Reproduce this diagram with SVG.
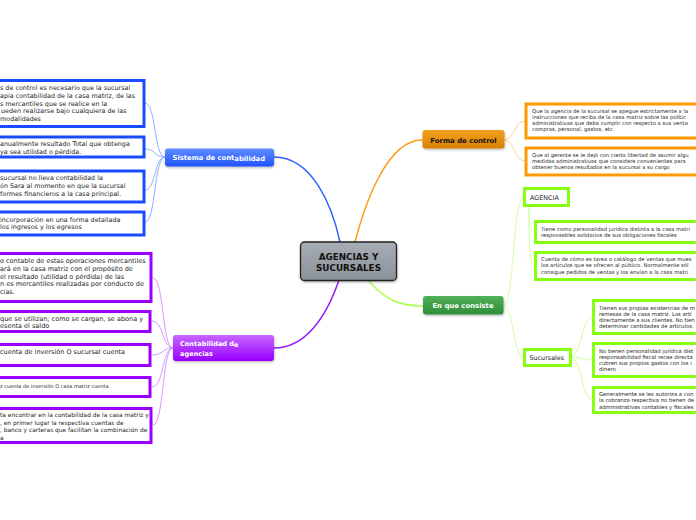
<svg xmlns="http://www.w3.org/2000/svg" width="696" height="520" viewBox="0 0 696 520">
<defs>
<linearGradient id="gCentral" x1="0" y1="0" x2="0" y2="1"><stop offset="0" stop-color="#a7adb4"/><stop offset="1" stop-color="#8b9198"/></linearGradient>
<linearGradient id="gBlue" x1="0" y1="0" x2="0" y2="1"><stop offset="0" stop-color="#5f8dff"/><stop offset="1" stop-color="#1f52ff"/></linearGradient>
<linearGradient id="gPurple" x1="0" y1="0" x2="0" y2="1"><stop offset="0" stop-color="#c866ff"/><stop offset="1" stop-color="#9900ff"/></linearGradient>
<linearGradient id="gOrange" x1="0" y1="0" x2="0" y2="1"><stop offset="0" stop-color="#f2a020"/><stop offset="1" stop-color="#d98000"/></linearGradient>
<linearGradient id="gGreen" x1="0" y1="0" x2="0" y2="1"><stop offset="0" stop-color="#52b058"/><stop offset="1" stop-color="#2f8c37"/></linearGradient>
<filter id="sh" x="-10%" y="-20%" width="120%" height="150%"><feDropShadow dx="0.5" dy="1.2" stdDeviation="0.8" flood-color="#000" flood-opacity="0.3"/></filter>
</defs>
<style>
.t{font-family:"DejaVu Sans",Verdana,sans-serif;fill:#262626}
.b{font-family:"DejaVu Sans",Verdana,sans-serif;font-weight:bold}
.blue{fill:#fff;stroke:#1a4cff;stroke-width:3}
.purple{fill:#fff;stroke:#9b00ff;stroke-width:3}
.orange{fill:#fff;stroke:#ff9900;stroke-width:3}
.green{fill:#fff;stroke:#88ff11;stroke-width:3}
.c{fill:none}
</style>
<rect width="696" height="520" fill="#fff"/>

<g id="connectors" class="c">
<path d="M340,242 C332,205 312,157 274,157" stroke="#2f62ff" stroke-width="1.5"/>
<path d="M339,280 C326,318 305,348 274,348" stroke="#9b1aff" stroke-width="1.5"/>
<path d="M355,242 C366,200 388,140 422,140" stroke="#ff9a10" stroke-width="1.5"/>
<path d="M368,280 C385,300 400,306 423,306" stroke="#aaff55" stroke-width="1.5"/>
<g stroke="#86a6ff" stroke-width="0.9">
<path d="M165,157 C154,157 156,103 145,103"/>
<path d="M165,157 C154,157 156,149 145,149"/>
<path d="M165,157 C154,157 156,190 145,190"/>
<path d="M165,157 C154,157 156,222 145,222"/>
</g>
<g stroke="#d38cff" stroke-width="0.9">
<path d="M173,348 C162,348 164,278 153,278"/>
<path d="M173,348 C162,348 164,321 152,321"/>
<path d="M173,348 C162,348 164,355 152,355"/>
<path d="M173,348 C162,348 164,387 152,387"/>
<path d="M173,348 C162,348 164,425 153,425"/>
</g>
<g stroke="#ffcc80" stroke-width="0.9">
<path d="M504,140 C515,140 514,121 525,121"/>
<path d="M504,140 C515,140 514,161 525,161"/>
</g>
<g stroke="#ccff99" stroke-width="0.9">
<path d="M503,306 C515,306 512,197 524,197"/>
<path d="M503,306 C515,306 512,357 524,357"/>
<path d="M529,206 C529,224 530,232 535,232"/>
<path d="M529,206 C529,250 530,266 535,266"/>
<path d="M570,357 C582,357 581,317 593,317"/>
<path d="M570,357 C582,357 581,360 593,360"/>
<path d="M570,357 C582,357 581,400 593,400"/>
</g>
</g>

<g id="central">
<rect x="300.5" y="242" width="96" height="38.5" rx="4" fill="url(#gCentral)" stroke="#222" stroke-width="1.3" filter="url(#sh)"/>
<text class="b" x="348.5" y="259.5" font-size="8.8" text-anchor="middle" fill="#111">AGENCIAS Y</text>
<text class="b" x="348.5" y="271" font-size="8.8" text-anchor="middle" fill="#111">SUCURSALES</text>
</g>

<g id="sistema">
<rect x="165" y="148.5" width="109" height="18" rx="3" fill="url(#gBlue)" filter="url(#sh)"/>
<text class="b" x="172.5" y="159.8" font-size="6.8" fill="#fff">Sistema de cont<tspan dy="1.2">abilidad</tspan></text>
</g>

<g id="contabilidad">
<rect x="173" y="335" width="101" height="26" rx="3" fill="url(#gPurple)" filter="url(#sh)"/>
<text class="b" x="180" y="346" font-size="6.6" fill="#fff">Contabilidad d<tspan dy="1">e</tspan></text>
<text class="b" x="180" y="355.5" font-size="6.6" fill="#fff">agencias</text>
</g>

<g id="forma">
<rect x="422.5" y="130" width="82" height="18.5" rx="3" fill="url(#gOrange)" filter="url(#sh)"/>
<text class="b" x="463.5" y="142.5" font-size="6.9" text-anchor="middle" fill="#111">Forma de control</text>
</g>

<g id="consiste">
<rect x="423" y="296" width="80.5" height="18.5" rx="3" fill="url(#gGreen)" filter="url(#sh)"/>
<text class="b" x="463" y="308" font-size="6.9" text-anchor="middle" fill="#fff">En que consiste</text>
</g>

<g id="s1">
<rect class="blue" x="-10" y="80.5" width="154" height="46"/>
<text class="t" font-size="6.4"><tspan x="0" y="90">s de control es necesario que la sucursal</tspan><tspan x="0" y="97.8">apia contabilidad de la casa matriz, de las</tspan><tspan x="0" y="105.6">s mercantiles que se realice en la</tspan><tspan x="1" y="113.4">ueden realizarse bajo cualquiera de las</tspan><tspan x="0" y="121.2">modalidades</tspan></text>
</g>
<g id="s2">
<rect class="blue" x="-10" y="137" width="154" height="20"/>
<text class="t" font-size="6.4"><tspan x="0" y="146">anualmente resultado Total que obtenga</tspan><tspan x="0" y="153.8">ya sea utilidad o pérdida.</tspan></text>
</g>
<g id="s3">
<rect class="blue" x="-10" y="171" width="154" height="31"/>
<text class="t" font-size="6.4"><tspan x="0" y="180">sucursal no lleva contabilidad la</tspan><tspan x="0" y="187.8">ón Sara al momento en que la sucursal</tspan><tspan x="0" y="195.6">formes financieros a la casa principal.</tspan></text>
</g>
<g id="s4">
<rect class="blue" x="-10" y="212" width="154" height="23"/>
<text class="t" font-size="6.4"><tspan x="0" y="221.5">incorporación en una forma detallada</tspan><tspan x="0" y="229.3">los ingresos y los egresos</tspan></text>
</g>

<g id="p1">
<rect class="purple" x="-10" y="253.5" width="161" height="48"/>
<text class="t" font-size="6.5"><tspan x="0" y="263">o contable de estas operaciones mercantiles</tspan><tspan x="0" y="270.8">ará en la casa matriz con el propósito de</tspan><tspan x="0" y="278.6">el resultado (utilidad o pérdida) de las</tspan><tspan x="0" y="286.4">n es mercantiles realizadas por conducto de</tspan><tspan x="0" y="294.2">cias.</tspan></text>
</g>
<g id="p2">
<rect class="purple" x="-10" y="311.5" width="160" height="20"/>
<text class="t" font-size="6.5"><tspan x="0" y="320.5">que se utilizan; como se cargan, se abona y</tspan><tspan x="0" y="328.3">esenta el saldo</tspan></text>
</g>
<g id="p3">
<rect class="purple" x="-10" y="344.5" width="160" height="21"/>
<text class="t" font-size="6.5" x="0" y="354">cuenta de inversión O sucursal cuenta</text>
</g>
<g id="p4">
<rect class="purple" x="-10" y="377.5" width="160" height="19"/>
<text class="t" font-size="5" x="0" y="387.5">z cuenta de inversión O casa matriz cuenta</text>
</g>
<g id="p5">
<rect class="purple" x="-10" y="408.5" width="161" height="34"/>
<text class="t" font-size="5.9"><tspan x="0" y="417">ta encontrar en la contabilidad de la casa matriz y</tspan><tspan x="0" y="424.6">, en primer lugar la respectiva cuentas de</tspan><tspan x="0" y="432.2">, banco y carteras que facilitan la combinación de</tspan><tspan x="0" y="439.8">a</tspan></text>
</g>

<g id="o1">
<rect class="orange" x="526" y="104" width="185" height="34"/>
<text class="t" font-size="5.25"><tspan x="532" y="113">Que la agencia de la sucursal se apegue estrictamente a la</tspan><tspan x="532" y="119">instrucciones que reciba de la casa matriz sobre las polític</tspan><tspan x="532" y="125">administrativas que deba cumplir con respecto a sus venta</tspan><tspan x="532" y="131">compras, personal, gastos, etc</tspan></text>
</g>
<g id="o2">
<rect class="orange" x="526" y="148" width="185" height="27"/>
<text class="t" font-size="5.25"><tspan x="532" y="156.5">Que al gerente se le dejó con cierta libertad de asumir algu</tspan><tspan x="532" y="162.5">medidas administrativas que considere convenientes para</tspan><tspan x="532" y="168.5">obtener buenos resultados en la sucursal a su cargo</tspan></text>
</g>

<g id="agencia">
<rect class="green" x="524.5" y="188.5" width="44" height="17"/>
<text class="t" font-size="6.4" x="530" y="199.5" fill="#222">AGENCIA</text>
</g>
<g id="a1">
<rect class="green" x="535.5" y="221.5" width="175" height="21"/>
<text class="t" font-size="5.25"><tspan x="541" y="230.5">Tiene como personalidad jurídica distinta a la casa matri</tspan><tspan x="541" y="237">responsables solidarios de sus obligaciones fiscales</tspan></text>
</g>
<g id="a2">
<rect class="green" x="535.5" y="252.5" width="175" height="27"/>
<text class="t" font-size="5.25"><tspan x="541" y="261">Cuenta de cómo es tarea o catálogo de ventas que mues</tspan><tspan x="541" y="267.3">los artículos que se ofrecen al público. Normalmente sól</tspan><tspan x="541" y="273.6">consigue pedidos de ventas y los envían a la casa matri</tspan></text>
</g>
<g id="sucursales">
<rect class="green" x="524.5" y="349.5" width="46" height="16"/>
<text class="t" font-size="6.4" x="529.5" y="360" fill="#222">Sucursales</text>
</g>
<g id="su1">
<rect class="green" x="593.5" y="300.5" width="117" height="33"/>
<text class="t" font-size="5.3"><tspan x="599" y="309.5">Tienen sus propias existencias de m</tspan><tspan x="599" y="315.8">remesas de la casa matriz. Los artí</tspan><tspan x="599" y="322.1">directamente a sus clientes. No tien</tspan><tspan x="599" y="328.4">determinar cantidades de artículos.</tspan></text>
</g>
<g id="su2">
<rect class="green" x="593.5" y="343.5" width="117" height="33"/>
<text class="t" font-size="5.3"><tspan x="599" y="352.5">No tienen personalidad jurídica dist</tspan><tspan x="599" y="358.8">responsabilidad fiscal recae directa</tspan><tspan x="599" y="365.1">cubren sus propios gastos con los i</tspan><tspan x="599" y="371.4">dinero</tspan></text>
</g>
<g id="su3">
<rect class="green" x="593.5" y="387.5" width="117" height="25"/>
<text class="t" font-size="5.3"><tspan x="599" y="396">Generalmente se les autoriza a con</tspan><tspan x="599" y="402.3">la cobranza respectiva no tienen de</tspan><tspan x="599" y="408.6">administrativas contables y fiscales</tspan></text>
</g>
</svg>
